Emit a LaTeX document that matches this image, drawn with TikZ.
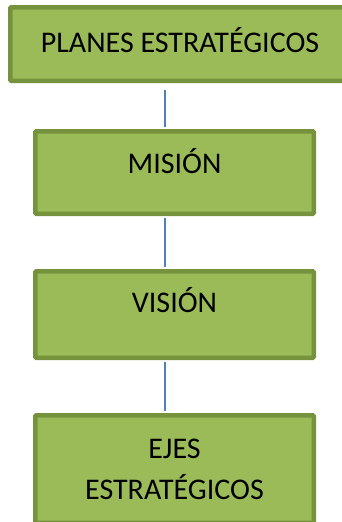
\documentclass[tikz,border=0pt]{standalone}
\usepackage{fontspec}
\setmainfont{Carlito}
\usepackage{tikz}
\definecolor{boxfill}{HTML}{9BBB59}
\definecolor{boxline}{HTML}{76923C}
\definecolor{linkblue}{HTML}{4F81BD}

\begin{document}
\begin{tikzpicture}[x=1pt, y=-1pt,
    planbox/.style={draw=boxline, fill=boxfill, line width=4.5pt, rounded corners=1pt,
      minimum width=278.5pt, inner sep=0pt, font=\fontsize{30}{41}\selectfont},
    link/.style={draw=linkblue, line width=1.5pt}]
    \useasboundingbox (0, 0) rectangle (342, 522);
    \node[planbox, minimum width=339.5pt, minimum height=73.5pt, text height=19.3pt, text depth=3pt] (planes) at (180, 44) {PLANES ESTRATÉGICOS};
    \node[planbox, minimum height=82.5pt, text height=19.3pt, text depth=18pt] (mision) at (174.5, 172.5) {MISIÓN};
    \node[planbox, minimum height=86.5pt, text height=19.3pt, text depth=24pt] (vision) at (174.5, 314.5) {VISIÓN};
    \node[planbox, minimum height=107.5pt, align=center] (ejes) at (174.5, 469) {EJES\\ESTRATÉGICOS};
    \coordinate (axis) at (165, 0);
    \draw[link, shorten <=7pt, shorten >=2.25pt] (planes.south -| axis) -- (mision.north -| axis);
    \draw[link, shorten <=2.25pt, shorten >=2.25pt] (mision.south -| axis) -- (vision.north -| axis);
    \draw[link, shorten <=2.25pt, shorten >=2.25pt] (vision.south -| axis) -- (ejes.north -| axis);
\end{tikzpicture}
\end{document}
